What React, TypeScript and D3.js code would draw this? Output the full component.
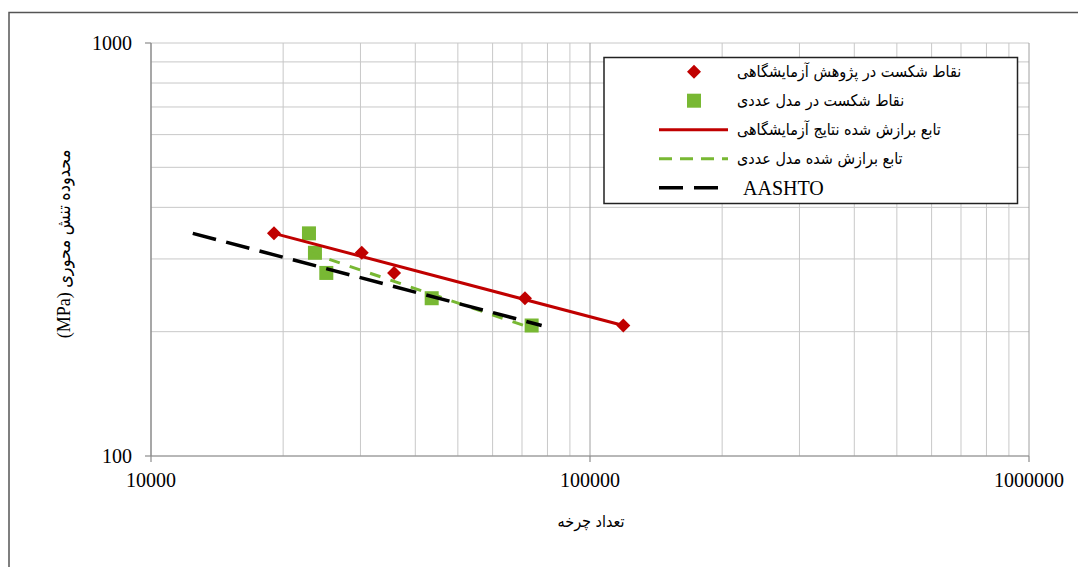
import React from "react";
import * as d3 from "d3";

// Fatigue test results: cycles to failure vs. axial stress range
const labCycles = [19060, 30200, 35780, 71100, 119100];
const labStress = [346, 310.5, 277.5, 241, 207];

const femCycles = [22900, 23630, 25080, 43590, 73630];
const femStress = [346, 310.5, 277.5, 241, 207];

// Fitted S-N lines (end points)
const labFitCycles = [19060, 119100];
const labFitStress = [346, 207];
const femFitCycles = [22900, 73630];
const femFitStress = [311, 204];
const aashtoCycles = [12450, 77600];
const aashtoStress = [346, 207];

const xTickLabels = [10000, 100000, 1000000];
const yTickLabels = [100, 1000];

const legendLabels = [
  "نقاط شکست در پژوهش آزمایشگاهی",
  "نقاط شکست در مدل عددی",
  "تابع برازش شده نتایج آزمایشگاهی",
  "تابع برازش شده مدل عددی",
  "AASHTO",
];

const xTitle = "تعداد چرخه";
const yTitle = "(MPa) محدوده تنش محوری";

const W = 1078;
const H = 567;
const plot = { left: 151, right: 1029, top: 43, bottom: 456 };

const RED = "#C00000";
const GREEN = "#78B833";
const SERIF = "'Liberation Serif', 'Times New Roman', serif";
const FA = "'DejaVu Sans Condensed', 'DejaVu Sans', sans-serif";

export default function App() {
  const x = d3.scaleLog().domain([1e4, 1e6]).range([plot.left, plot.right]);
  const y = d3.scaleLog().domain([100, 1000]).range([plot.bottom, plot.top]);

  const xGrid: number[] = [];
  for (const dec of [1e4, 1e5]) for (let k = 1; k <= 9; k++) xGrid.push(k * dec);
  xGrid.push(1e6);
  const yGrid: number[] = [];
  for (let k = 1; k <= 10; k++) yGrid.push(k * 100);

  const line = d3
    .line<[number, number]>()
    .x((d) => x(d[0]))
    .y((d) => y(d[1]));
  const zip = (a: number[], b: number[]) => a.map((v, i) => [v, b[i]] as [number, number]);

  const diamond = d3.symbol().type(d3.symbolDiamond2).size(125)();

  const lg = { x: 604, y: 57.5, w: 413.5, h: 146, rowY: 71.7, rowH: 29, symX: 694, lineX0: 659, lineX1: 728, textX: 737 };

  return (
    <svg width={W} height={H} style={{ position: "absolute", left: 0, top: 0, background: "#fff" }}>
      <rect x={9} y={12.5} width={1200} height={700} fill="#fff" stroke="#555" strokeWidth={1.5} />

      {/* grid */}
      {yGrid.map((v) => (
        <line key={"gy" + v} x1={plot.left} x2={plot.right} y1={y(v)} y2={y(v)} stroke="#C8C8C8" strokeWidth={1} />
      ))}
      {xGrid.map((v) => {
        const major = Math.abs(Math.log10(v) - Math.round(Math.log10(v))) < 1e-9;
        return (
          <line
            key={"gx" + v}
            x1={x(v)}
            x2={x(v)}
            y1={plot.top}
            y2={plot.bottom}
            stroke={major ? "#A0A0A0" : "#C8C8C8"}
            strokeWidth={1}
          />
        );
      })}

      {/* axes */}
      <line x1={plot.left} x2={plot.left} y1={plot.top} y2={plot.bottom} stroke="#8C8C8C" strokeWidth={1.2} />
      <line x1={plot.left} x2={plot.right} y1={plot.bottom} y2={plot.bottom} stroke="#8C8C8C" strokeWidth={1.2} />
      {yTickLabels.map((v) => (
        <g key={"yt" + v}>
          <line x1={plot.left - 6} x2={plot.left} y1={y(v)} y2={y(v)} stroke="#8C8C8C" strokeWidth={1.2} />
          <text x={132} y={y(v)} dy="0.35em" textAnchor="end" fontFamily={SERIF} fontSize={20} fill="#000">
            {v}
          </text>
        </g>
      ))}
      {xTickLabels.map((v) => (
        <g key={"xt" + v}>
          <line x1={x(v)} x2={x(v)} y1={plot.bottom} y2={plot.bottom + 6} stroke="#8C8C8C" strokeWidth={1.2} />
          <text x={x(v)} y={487} textAnchor="middle" fontFamily={SERIF} fontSize={20} fill="#000">
            {v}
          </text>
        </g>
      ))}

      {/* axis titles */}
      <text x={591} y={527} textAnchor="middle" fontFamily={FA} fontSize={16} fill="#000">
        {xTitle}
      </text>
      <text
        transform={`translate(70,244) rotate(-90)`}
        textAnchor="middle"
        fontFamily={`${SERIF}, ${FA}`}
        fontSize={18}
        fill="#000"
        direction="ltr"
      >
        {yTitle}
      </text>

      {/* markers */}
      {zip(labCycles, labStress).map((d, i) => (
        <path key={"lab" + i} d={diamond!} transform={`translate(${x(d[0])},${y(d[1])})`} fill={RED} />
      ))}
      {zip(femCycles, femStress).map((d, i) => (
        <rect key={"fem" + i} x={x(d[0]) - 7} y={y(d[1]) - 7} width={14} height={14} fill={GREEN} />
      ))}

      {/* fitted lines */}
      <path d={line(zip(labFitCycles, labFitStress))!} fill="none" stroke={RED} strokeWidth={3} />
      <path d={line(zip(femFitCycles, femFitStress))!} fill="none" stroke={GREEN} strokeWidth={3} strokeDasharray="11 10.5" />
      <path d={line(zip(aashtoCycles, aashtoStress))!} fill="none" stroke="#000" strokeWidth={3.5} strokeDasharray="24 10.5" />

      {/* legend */}
      <rect x={lg.x} y={lg.y} width={lg.w} height={lg.h} fill="#fff" stroke="#222" strokeWidth={1.5} />
      <path d={diamond!} transform={`translate(${lg.symX},${lg.rowY})`} fill={RED} />
      <rect x={lg.symX - 7} y={lg.rowY + lg.rowH - 7} width={14} height={14} fill={GREEN} />
      <line x1={lg.lineX0} x2={lg.lineX1} y1={lg.rowY + 2 * lg.rowH} y2={lg.rowY + 2 * lg.rowH} stroke={RED} strokeWidth={3} />
      <line
        x1={lg.lineX0}
        x2={lg.lineX1}
        y1={lg.rowY + 3 * lg.rowH}
        y2={lg.rowY + 3 * lg.rowH}
        stroke={GREEN}
        strokeWidth={3}
        strokeDasharray="13 8"
      />
      <line
        x1={lg.lineX0}
        x2={lg.lineX1}
        y1={lg.rowY + 4 * lg.rowH}
        y2={lg.rowY + 4 * lg.rowH}
        stroke="#000"
        strokeWidth={3.5}
        strokeDasharray="24 11"
      />
      {legendLabels.map((t, i) => (
        <text
          key={"lt" + i}
          x={i === 4 ? lg.textX + 6 : lg.textX}
          y={lg.rowY + i * lg.rowH}
          dy="0.35em"
          textAnchor="start"
          fontFamily={i === 4 ? SERIF : FA}
          fontSize={i === 4 ? 20 : 16}
          fill="#000"
        >
          {t}
        </text>
      ))}
    </svg>
  );
}
